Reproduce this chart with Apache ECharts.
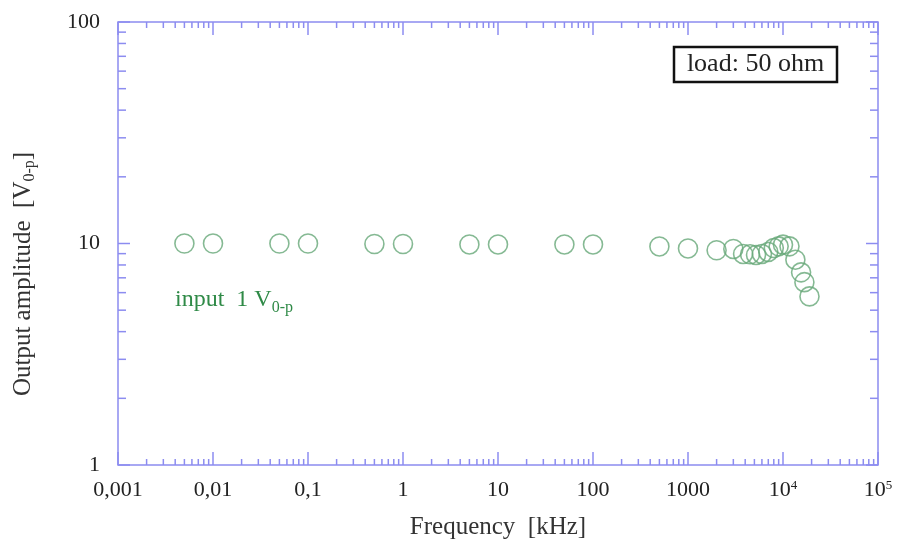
<!DOCTYPE html>
<html>
<head>
<meta charset="utf-8">
<script src="https://cdn.jsdelivr.net/npm/echarts@6/dist/echarts.min.js"></script>
<style>
html,body{margin:0;padding:0;background:#fff;}
#chart{width:897px;height:545px;}
</style>
</head>
<body>
<div id="chart"></div>
<script>
// ---- data ----
const freqKHz = [0.005, 0.01, 0.05, 0.1, 0.5, 1, 5, 10, 50, 100, 500, 1000,
  2000, 3000, 3800, 4500, 5200, 6000, 7000, 8000, 9000, 10000, 11700, 13500, 15500, 16800, 19000];
const amplitude = [10.0, 10.0, 10.0, 10.0, 9.95, 9.95, 9.9, 9.9, 9.9, 9.9, 9.7, 9.5,
  9.32, 9.45, 8.97, 8.94, 8.88, 8.97, 9.16, 9.54, 9.71, 9.88, 9.71, 8.45, 7.41, 6.69, 5.77];
const xTickLabels = ['0,001', '0,01', '0,1', '1', '10', '100', '1000', '10{sup|4}', '10{sup|5}'];
const yTickLabels = ['1', '10', '100'];
const xTitle = 'Frequency  [kHz]';
const yTitle = '{t|Output amplitude  [V}{sub|0-p}{t|]}';
const noteText = 'load: 50 ohm';
const seriesNote = '{t|input  1 V}{sub|0-p}';

// ---- style ----
const axisColor = '#8c8cf0';
const serif = '"Liberation Serif", "DejaVu Serif", serif';
const markColor = '#66a878';
const textGreen = '#2f8a47';

// tick helper arrays (axis ticks, not data)
const xTicks = [];
for (let d = -3; d <= 4; d++) {
  for (let m = 1; m <= 9; m++) xTicks.push([m * Math.pow(10, d), 1, m === 1 ? 13 : 6]);
}
xTicks.push([1e5, 1, 13]);
const yTicks = [];
for (let d = 0; d <= 1; d++) {
  for (let m = 1; m <= 9; m++) yTicks.push([0.001, m * Math.pow(10, d), m === 1 ? 12 : 8]);
}
yTicks.push([0.001, 100, 12]);

const chart = echarts.init(document.getElementById('chart'));
const option = {
  backgroundColor: '#fff',
  animation: false,
  grid: { left: 118, right: 19, top: 22, bottom: 80, outerBoundsMode: 'none', containLabel: false,
    show: true, borderColor: axisColor, borderWidth: 1.5, backgroundColor: 'transparent' },
  xAxis: {
    type: 'log', logBase: 10, min: 0.001, max: 1e5,
    axisLine: { show: false }, axisTick: { show: false }, splitLine: { show: false },
    axisLabel: {
      margin: 14, color: '#222', fontFamily: serif, fontSize: 22,
      formatter: v => xTickLabels[Math.round(Math.log10(v)) + 3],
      rich: { sup: { fontSize: 13, fontFamily: serif, color: '#222', verticalAlign: 'top', padding: [0, 0, 10, 0] } }
    },
    name: xTitle, nameLocation: 'middle', nameGap: 50,
    nameTextStyle: { fontFamily: serif, fontSize: 25, color: '#333' }
  },
  yAxis: {
    type: 'log', logBase: 10, min: 1, max: 100,
    axisLine: { show: false }, axisTick: { show: false }, splitLine: { show: false },
    axisLabel: {
      margin: 18, color: '#222', fontFamily: serif, fontSize: 22,
      formatter: v => yTickLabels[Math.round(Math.log10(v))]
    }
  },
  graphic: [
    {
      type: 'text', x: 23, y: 274, rotation: Math.PI / 2,
      style: {
        text: yTitle, align: 'center', verticalAlign: 'middle', fill: '#333',
        rich: {
          t: { fontFamily: serif, fontSize: 25, fill: '#333' },
          sub: { fontFamily: serif, fontSize: 16, fill: '#333', padding: [14, 0, 0, 0] }
        }
      }
    },
    {
      type: 'rect', shape: { x: 674, y: 47, width: 163, height: 35 },
      style: { fill: '#fff', stroke: '#111', lineWidth: 2.5 }
    },
    {
      type: 'text', x: 755.5, y: 64.5,
      style: { text: noteText, align: 'center', verticalAlign: 'middle', fill: '#222', font: '26px ' + serif }
    },
    {
      type: 'text', x: 175, y: 300,
      style: {
        text: seriesNote, align: 'left', verticalAlign: 'middle',
        rich: {
          t: { fontFamily: serif, fontSize: 24, fill: textGreen },
          sub: { fontFamily: serif, fontSize: 16, fill: textGreen, padding: [15, 0, 0, 0] }
        }
      }
    }
  ],
  series: [
    {
      type: 'custom', silent: true, clip: false, z: 5,
      data: xTicks,
      renderItem: (params, api) => {
        const cs = params.coordSys;
        const p = api.coord([api.value(0), 1]);
        const len = api.value(2);
        const st = { stroke: axisColor, lineWidth: 1.5 };
        return { type: 'group', children: [
          { type: 'line', shape: { x1: p[0], y1: cs.y + cs.height, x2: p[0], y2: cs.y + cs.height - len }, style: st },
          { type: 'line', shape: { x1: p[0], y1: cs.y, x2: p[0], y2: cs.y + len }, style: st }
        ] };
      }
    },
    {
      type: 'custom', silent: true, clip: false, z: 5,
      data: yTicks,
      renderItem: (params, api) => {
        const cs = params.coordSys;
        const p = api.coord([0.001, api.value(1)]);
        const len = api.value(2);
        const st = { stroke: axisColor, lineWidth: 1.5 };
        return { type: 'group', children: [
          { type: 'line', shape: { x1: cs.x, y1: p[1], x2: cs.x + len, y2: p[1] }, style: st },
          { type: 'line', shape: { x1: cs.x + cs.width, y1: p[1], x2: cs.x + cs.width - len, y2: p[1] }, style: st }
        ] };
      }
    },
    {
      type: 'scatter', z: 10,
      data: freqKHz.map((f, i) => [f, amplitude[i]]),
      symbol: 'circle', symbolSize: 19,
      itemStyle: { color: 'rgba(255,255,255,0)', borderColor: markColor, borderWidth: 1.6 }
    }
  ]
};
chart.setOption(option);
</script>
</body>
</html>
